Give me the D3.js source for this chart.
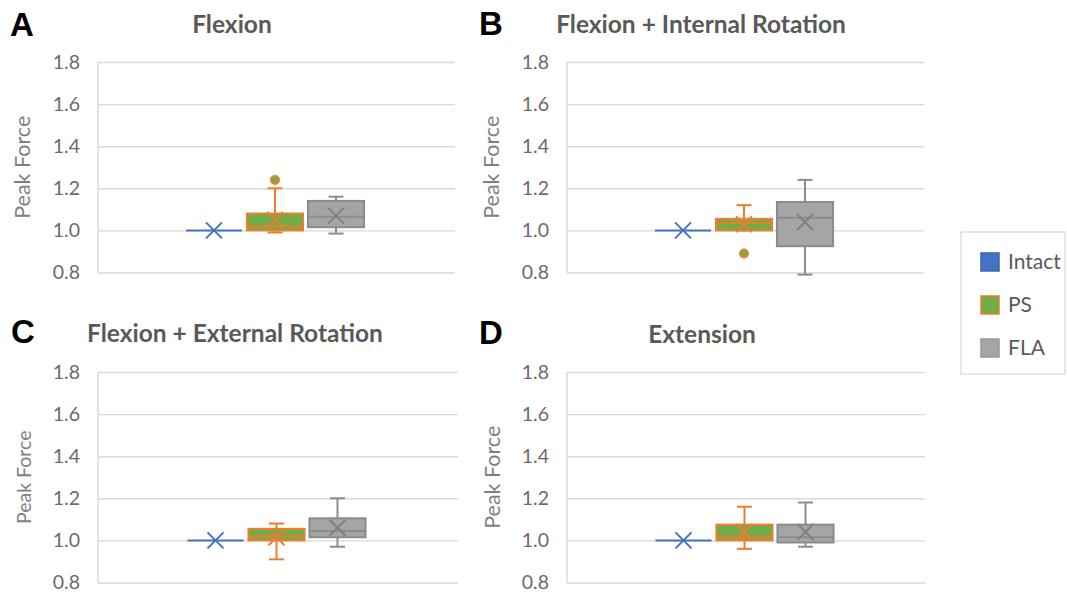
<!DOCTYPE html>
<html>
<head>
<meta charset="utf-8">
<script src="https://cdn.jsdelivr.net/npm/d3@7"></script>
<style>
  body { margin: 0; background: #fff; }
  svg { display: block; }
</style>
</head>
<body>
<div id="chart"></div>
<script>
// panels, in reading order
const panelLetters = ['A', 'B', 'C', 'D'];
const panelTitles = ['Flexion', 'Flexion + Internal Rotation', 'Flexion + External Rotation', 'Extension'];
const seriesNames = ['Intact', 'PS', 'FLA'];
const yTicks = [0.8, 1.0, 1.2, 1.4, 1.6, 1.8];

// box stats per panel: [min, q1, median, q3, max, mean]
const intactStats = [
    [1, 1, 1, 1, 1, 1],
    [1, 1, 1, 1, 1, 1],
    [1, 1, 1, 1, 1, 1],
    [1, 1, 1, 1, 1, 1]
];
const psStats = [
    [0.99, 1.00, 1.02, 1.08, 1.20, 1.05],
    [1.00, 1.00, 1.035, 1.055, 1.12, 1.03],
    [0.91, 1.00, 1.02, 1.055, 1.08, 1.015],
    [0.96, 1.00, 1.015, 1.075, 1.16, 1.04]
];
const flaStats = [
    [0.985, 1.015, 1.065, 1.14, 1.16, 1.07],
    [0.79, 0.925, 1.06, 1.135, 1.24, 1.04],
    [0.97, 1.015, 1.045, 1.105, 1.20, 1.06],
    [0.97, 0.99, 1.015, 1.075, 1.18, 1.04]
];
const psOutliers = [[1.24], [0.89], [], []];
const flaOutliers = [[], [], [], []];
const intactOutliers = [[], [], [], []];

const styles = {
    Intact: { fill: '#4472C4', stroke: '#4472C4', mean: '#4472C4' },
    PS: { fill: '#70AD47', stroke: '#ED7D31', mean: '#ED7D31' },
    FLA: { fill: '#A5A5A5', stroke: '#8C8C8C', mean: '#7F7F7F' }
};

const width = 1067, height = 595;
const font = 'Lato, "Open Sans", sans-serif';

// plot rectangles for the four panels
const panels = [
    { left: 98, top: 62, w: 357, titleX: 232, titleY: 33, letterX: 10, letterY: 36, axisX: 22, axisSize: 21.5 },
    { left: 567, top: 62, w: 357, titleX: 701, titleY: 33, letterX: 479, letterY: 35, axisX: 491, axisSize: 21.5 },
    { left: 98, top: 372, w: 360, titleX: 235, titleY: 342, letterX: 11, letterY: 343, axisX: 24, axisSize: 19.5 },
    { left: 567, top: 372, w: 358, titleX: 702, titleY: 343, letterX: 479, letterY: 344, axisX: 492, axisSize: 21.5 }
];
const plotH = 210.5;

const svg = d3.select('#chart')
    .append('svg')
    .attr('width', width)
    .attr('height', height);

const allStats = { Intact: intactStats, PS: psStats, FLA: flaStats };
const allOutliers = { Intact: intactOutliers, PS: psOutliers, FLA: flaOutliers };

panels.forEach((p, i) => {
    const g = svg.append('g').attr('transform', `translate(${p.left},${p.top})`);

    const yScale = d3.scaleLinear().domain([0.8, 1.8]).range([plotH, 0]);
    const xScale = d3.scaleBand()
        .domain(seriesNames)
        .range([p.w / 2 - 93, p.w / 2 + 90])
        .paddingInner(0.08)
        .paddingOuter(0.04);

    // grid + tick labels
    const axis = g.append('g')
        .call(d3.axisLeft(yScale)
            .tickValues(yTicks)
            .tickSize(-p.w)
            .tickPadding(18)
            .tickFormat(d3.format('.1f')));
    axis.select('.domain').remove();
    axis.selectAll('line').attr('stroke', '#d9d9d9').attr('stroke-width', 1.4);
    axis.selectAll('text')
        .attr('fill', '#6b6b6b')
        .style('font-family', font)
        .style('font-size', '19.5px');

    g.append('line')
        .attr('x1', 0).attr('x2', 0)
        .attr('y1', yScale(1.8)).attr('y2', yScale(0.8))
        .attr('stroke', '#d9d9d9')
        .attr('stroke-width', 1.4);

    // boxes
    seriesNames.forEach((s) => {
        const [mn, q1, med, q3, mx, mean] = allStats[s][i];
        const st = styles[s];
        const x0 = xScale(s);
        const bw = xScale.bandwidth();
        const cx = x0 + bw / 2;
        const capW = 15;

        // whiskers
        g.append('line')
            .attr('x1', cx).attr('x2', cx)
            .attr('y1', yScale(q3)).attr('y2', yScale(mx))
            .attr('stroke', st.stroke).attr('stroke-width', 2);
        g.append('line')
            .attr('x1', cx).attr('x2', cx)
            .attr('y1', yScale(q1)).attr('y2', yScale(mn))
            .attr('stroke', st.stroke).attr('stroke-width', 2);
        if (s !== 'Intact') {
            [mn, mx].forEach((v) => {
                g.append('line')
                    .attr('x1', cx - capW / 2).attr('x2', cx + capW / 2)
                    .attr('y1', yScale(v)).attr('y2', yScale(v))
                    .attr('stroke', st.stroke).attr('stroke-width', 2);
            });
        }

        // box
        g.append('rect')
            .attr('x', x0)
            .attr('y', yScale(q3))
            .attr('width', bw)
            .attr('height', Math.max(0, yScale(q1) - yScale(q3)))
            .attr('fill', st.fill)
            .attr('stroke', st.stroke)
            .attr('stroke-width', 2);

        // median
        g.append('line')
            .attr('x1', x0).attr('x2', x0 + bw)
            .attr('y1', yScale(med)).attr('y2', yScale(med))
            .attr('stroke', st.stroke).attr('stroke-width', 2);

        // mean marker
        const m = 8;
        const my = yScale(mean);
        g.append('path')
            .attr('d', `M${cx - m},${my - m}L${cx + m},${my + m}M${cx - m},${my + m}L${cx + m},${my - m}`)
            .attr('stroke', st.mean)
            .attr('stroke-width', 2)
            .attr('fill', 'none');

        // outliers
        g.selectAll(null)
            .data(allOutliers[s][i])
            .enter()
            .append('circle')
            .attr('cx', cx)
            .attr('cy', (d) => yScale(d))
            .attr('r', 4)
            .attr('fill', st.fill)
            .attr('stroke', st.stroke)
            .attr('stroke-width', 2);
    });

    // titles
    svg.append('text')
        .attr('x', p.titleX)
        .attr('y', p.titleY)
        .attr('text-anchor', 'middle')
        .attr('fill', '#595959')
        .style('font-family', font)
        .style('font-weight', 'bold')
        .style('font-size', '24.5px')
        .text(panelTitles[i]);

    svg.append('text')
        .attr('x', p.letterX)
        .attr('y', p.letterY)
        .attr('fill', '#000')
        .style('font-family', '"Liberation Sans", Arial, sans-serif')
        .style('font-weight', 'bold')
        .style('font-size', '33px')
        .text(panelLetters[i]);

    svg.append('text')
        .attr('transform', `translate(${p.axisX},${p.top + plotH / 2}) rotate(-90)`)
        .attr('text-anchor', 'middle')
        .attr('dy', '0.35em')
        .attr('fill', '#7f7f7f')
        .style('font-family', font)
        .style('font-size', p.axisSize + 'px')
        .text('Peak Force');
});

// legend
const legend = svg.append('g').attr('transform', 'translate(961,232)');
legend.append('rect')
    .attr('width', 104)
    .attr('height', 142)
    .attr('fill', '#fff')
    .attr('stroke', '#d9d9d9')
    .attr('stroke-width', 1.2);

const legendItems = legend.selectAll('.item')
    .data(seriesNames)
    .enter()
    .append('g')
    .attr('class', 'item')
    .attr('transform', (d, i) => `translate(20,${30 + i * 43})`);

legendItems.append('rect')
    .attr('x', 0)
    .attr('y', -9)
    .attr('width', 18)
    .attr('height', 18)
    .attr('fill', (d) => styles[d].fill)
    .attr('stroke', (d) => d === 'PS' ? styles[d].stroke : d === 'FLA' ? '#999' : '#3a64b0')
    .attr('stroke-width', 1.5);

legendItems.append('text')
    .attr('x', 27)
    .attr('dy', '0.35em')
    .attr('fill', '#595959')
    .style('font-family', font)
    .style('font-size', '21px')
    .text((d) => d);
</script>
</body>
</html>
